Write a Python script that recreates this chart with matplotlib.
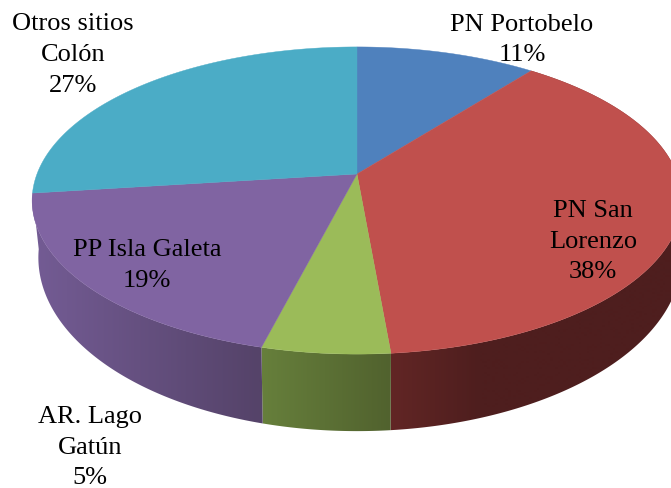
import numpy as np
import matplotlib
matplotlib.use("Agg")
import matplotlib.pyplot as plt
from matplotlib.patches import Polygon

categories = ["PN Portobelo", "PN San\nLorenzo", "AR. Lago\nGatún", "PP Isla Galeta", "Otros sitios\nColón"]
values = [10.6, 38.0, 5.4, 19.0, 27.0]
pct_labels = ["11%", "38%", "5%", "19%", "27%"]
top_colors = ["#4f81bd", "#c0504d", "#9bbb59", "#8064a2", "#4bacc6"]
side_stops = {
    1: ([390, 480, 671], ["#622625", "#4e1e1e", "#4e1e1e"]),
    2: ([259, 390], ["#67803c", "#51622e"]),
    3: ([30, 259], ["#745c95", "#554369"]),
}
label_xy = [(522, 40), (593, 241.5), (90, 448), (147, 265.5), (73, 55)]

CX, CY, A, B, K = 357.0, 175.0, 320.0, 149.0, 0.1726
# lower rim relative to the upper one
TOP_C = (357.0, 201.0)
BOT_C = (357.0, 258.0)
SX, SY = 0.99, 1.13

plt.rcParams["font.family"] = ["Liberation Serif", "DejaVu Serif"]
fig = plt.figure(figsize=(6.71, 4.89), dpi=100)
ax = fig.add_axes([0, 0, 1, 1])
ax.axis("off")


def project(theta):
    u, v = np.sin(theta), np.cos(theta)
    w = 1 + K * v
    return CX + A * u / w, CY - B * v / w


def project_bottom(theta):
    x, y = project(theta)
    dx = x - TOP_C[0]
    return BOT_C[0] + SX * dx + 3.0 * (dx / 325.0) ** 2, BOT_C[1] + SY * (y - TOP_C[1])


edges = np.cumsum([0] + values) / sum(values) * 2 * np.pi

# side walls: horizontal shading clipped to each wedge's outer wall
grad_x = np.arange(0, 672)
for i, (xs_stop, cols) in side_stops.items():
    rgb = np.array([matplotlib.colors.to_rgb(c) for c in cols])
    th = np.linspace(edges[i], edges[i + 1], 300)
    xt, yt = project(th)
    xb, yb = project_bottom(th)
    poly = Polygon(np.c_[np.r_[xt, xb[::-1]], np.r_[yt, yb[::-1]]], closed=True,
                   facecolor="none", edgecolor="none", transform=ax.transData)
    ax.add_patch(poly)
    img = np.stack([np.interp(grad_x, xs_stop, rgb[:, k]) for k in range(3)], axis=-1)[None, :, :]
    im = ax.imshow(img, extent=(0, 671, 489, 0), aspect="auto", zorder=1, interpolation="bilinear")
    im.set_clip_path(poly)
ax.set_xlim(0, 671)
ax.set_ylim(489, 0)

# top faces
for i, col in enumerate(top_colors):
    th = np.linspace(edges[i], edges[i + 1], 200)
    x, y = project(th)
    ax.fill(np.r_[CX, x], np.r_[CY, y], facecolor=col, edgecolor=col, lw=0.3, zorder=2)

for name, pct, (x, y) in zip(categories, pct_labels, label_xy):
    ax.text(x, y, f"{name}\n{pct}", ha="center", va="center", fontsize=19,
            color="black", linespacing=1.5, zorder=3)

fig.savefig("out.png", dpi=100)
